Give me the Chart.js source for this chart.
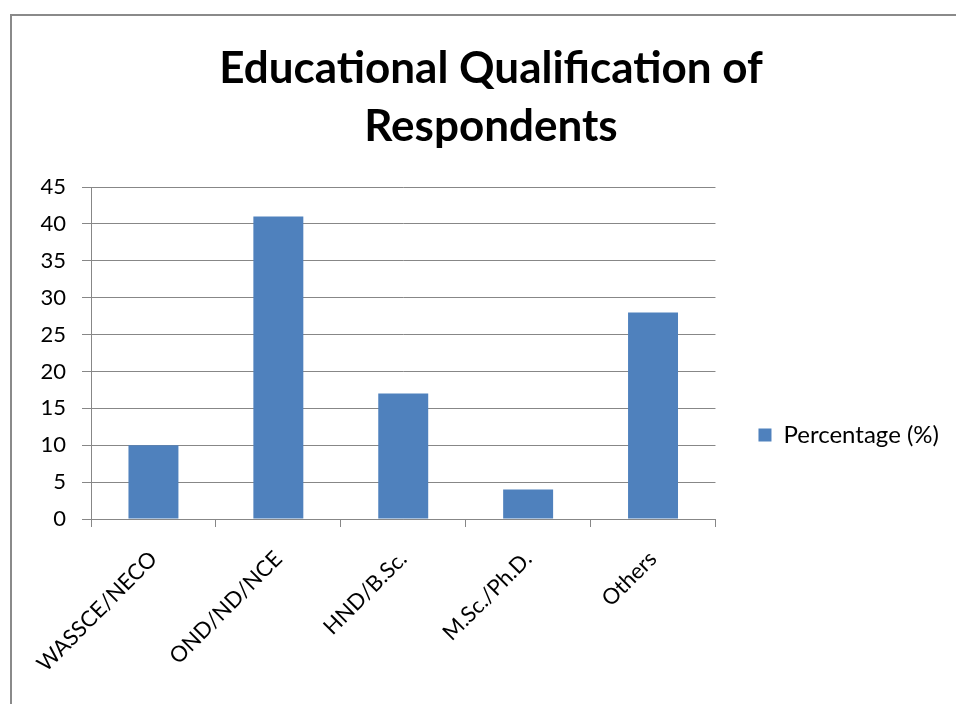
<!DOCTYPE html>
<html>
<head>
<meta charset="utf-8">
<script src="https://cdn.jsdelivr.net/npm/chart.js@4.4.1/dist/chart.umd.min.js"></script>
<style>
  html, body { margin: 0; padding: 0; background: #fff; overflow: hidden; width: 956px; height: 704px; }
  #frame { position: absolute; left: 10px; top: 14px; width: 958px; height: 688px;
           border-left: 2px solid #8a8a8a; border-top: 2px solid #8a8a8a; }
  #c { display: block; }
</style>
</head>
<body>
<div id="frame"><canvas id="c" width="958" height="688"></canvas></div>
<script>
const categories = ['WASSCE/NECO', 'OND/ND/NCE', 'HND/B.Sc.', 'M.Sc./Ph.D.', 'Others'];
const percentageValues = [10, 41, 17, 4, 28];
const seriesName = 'Percentage (%)';
const titleLines = ['Educational Qualification of', 'Respondents'];
const yMin = 0, yMax = 45, yStep = 5;

// Re-centre the title over the full canvas and move the legend to its place
const boxPlacement = {
  id: 'boxPlacement',
  afterLayout(chart) {
    const t = chart.titleBlock;
    if (t) { t.left = 0; t.right = chart.width; t.width = chart.width; }
    const lg = chart.legend;
    if (lg) {
      const h = lg.bottom - lg.top;
      const centre = 419;
      lg.top = centre - h / 2;
      lg.bottom = centre + h / 2;
    }
  }
};

function draw() {
  const grid = '#878787';
  new Chart(document.getElementById('c'), {
    type: 'bar',
    data: {
      labels: categories,
      datasets: [{
        label: seriesName,
        data: percentageValues,
        backgroundColor: '#4F81BD',
        borderWidth: 0,
        barPercentage: 0.4,
        categoryPercentage: 1.0
      }]
    },
    plugins: [boxPlacement],
    options: {
      responsive: false,
      animation: false,
      devicePixelRatio: 1,
      layout: { padding: { left: 0, right: 21, top: 0, bottom: 0 } },
      font: { family: 'Lato' },
      plugins: {
        title: {
          display: true,
          text: titleLines,
          color: '#000',
          font: { family: 'Lato', size: 44, weight: 'bold', lineHeight: '58px' },
          padding: { top: 24, bottom: 31 }
        },
        legend: {
          position: 'right',
          labels: {
            color: '#000',
            boxWidth: 13,
            boxHeight: 13,
            padding: 43,
            font: { family: 'Lato', size: 24 }
          }
        },
        tooltip: { enabled: false }
      },
      scales: {
        x: {
          grid: { display: true, drawOnChartArea: false, drawTicks: true, tickLength: 8, color: grid, offset: true },
          border: { display: true, color: grid, width: 1 },
          ticks: { color: '#000', font: { family: 'Lato', size: 22 }, maxRotation: 45, minRotation: 45, autoSkip: false, padding: 19 },
          afterFit: (s) => { s.height = 185; }
        },
        y: {
          min: yMin, max: yMax,
          grid: { color: grid, drawTicks: true, tickLength: 9 },
          border: { display: true, color: grid, width: 1 },
          ticks: { stepSize: yStep, color: '#000', font: { family: 'Lato', size: 22 }, padding: 16 },
          afterFit: (s) => { s.width = 79; }
        }
      }
    }
  });
}
if (document.fonts && document.fonts.load) {
  Promise.all([document.fonts.load('bold 44px Lato'), document.fonts.load('22px Lato')]).then(draw, draw);
} else { draw(); }
</script>
</body>
</html>
